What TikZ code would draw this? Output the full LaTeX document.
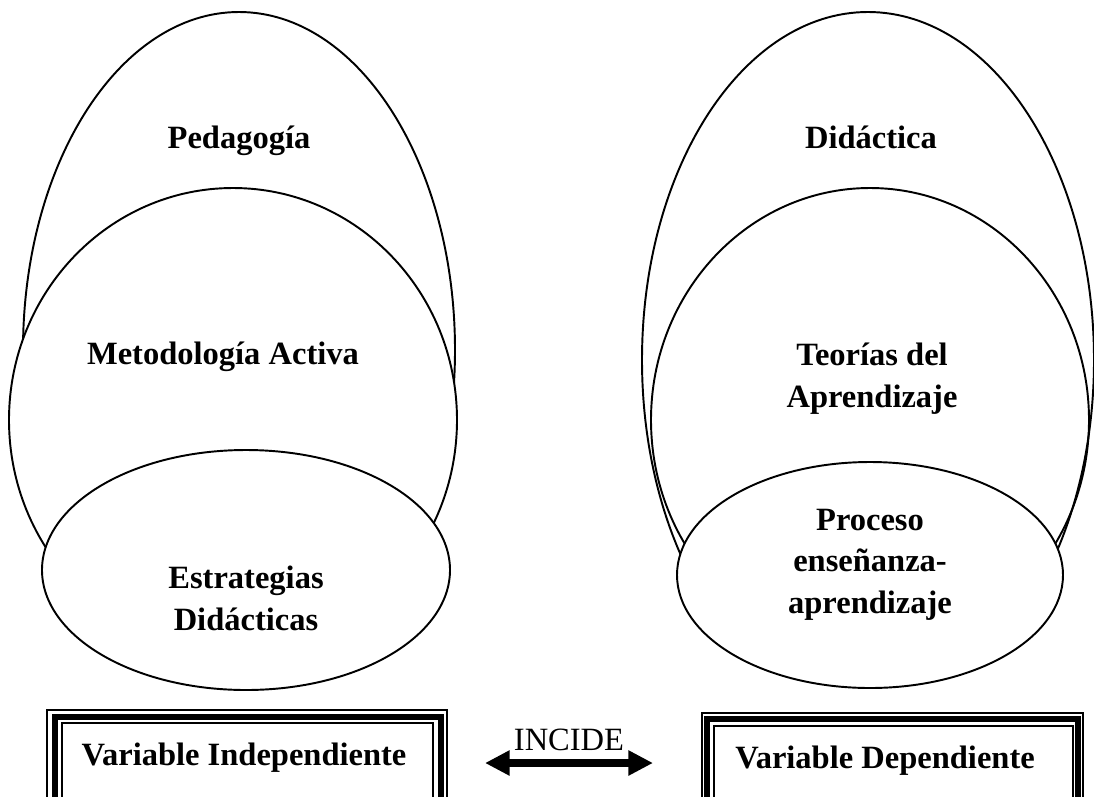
\documentclass[tikz,border=0pt]{standalone}
\usepackage{fontspec}
\setmainfont{Liberation Serif}
\usetikzlibrary{arrows.meta}

\begin{document}
\begin{tikzpicture}[x=0.2mm,y=-0.2mm,
  oval/.style={line width=1.1pt},
  word/.style={font=\bfseries\fontsize{18.5}{23.5}\selectfont, align=center, anchor=base, inner sep=0pt},
  thinrule/.style={line width=0.8pt},
  thickrule/.style={line width=3.2pt}]
\useasboundingbox (0,0) rectangle (1094,796);
\clip (0,0) rectangle (1094,796);

% left group
\draw[oval] (239,350) ellipse [x radius=216, y radius=338];
\draw[oval,fill=white] (233,420) ellipse [x radius=224, y radius=232];
\draw[oval,fill=white] (246,570) ellipse [x radius=204, y radius=120];

% right group
\begin{scope}
\clip (0,0) rectangle (1094,620);
\draw[oval] (868,360) ellipse [x radius=226, y radius=348];
\end{scope}
\draw[oval] (870,420) ellipse [x radius=219, y radius=232];
\draw[oval,fill=white] (870,575) ellipse [x radius=193, y radius=113];

\node[word] (peda) at (239,148) {Pedagogía};
\node[word] (meto) at (223,364) {Metodología Activa};
\node[word] (estr) at (246,630) {Estrategias\\Didácticas};
\node[word] (dida) at (871,148) {Didáctica};
\node[word] (teor) at (872,407) {Teorías del\\Aprendizaje};
\node[word] (proc) at (870,613) {Proceso\\enseñanza-\\aprendizaje};

% boxes
\draw[thinrule] (47,710) rectangle (447,820);
\draw[thickrule] (55,717) rectangle (441,820);
\draw[thinrule] (62,723) rectangle (433,820);
\draw[thinrule] (702,713) rectangle (1083,820);
\draw[thickrule] (707,719) rectangle (1078,820);
\draw[thinrule] (714,726) rectangle (1073,820);
\node[word] (vi) at (244,765) {Variable Independiente};
\node[word] (vd) at (885,768) {Variable Dependiente};

\coordinate (al) at (485,763);
\coordinate (ar) at (653,763);
\draw[line width=4.5pt,{Triangle[length=14pt,width=13.5pt]}-{Triangle[length=14pt,width=13.5pt]}] (al) -- (ar);
\node[font=\fontsize{18.5}{23.5}\selectfont, anchor=base, inner sep=0pt] (inc) at (569,750) {INCIDE};

\end{tikzpicture}
\end{document}
